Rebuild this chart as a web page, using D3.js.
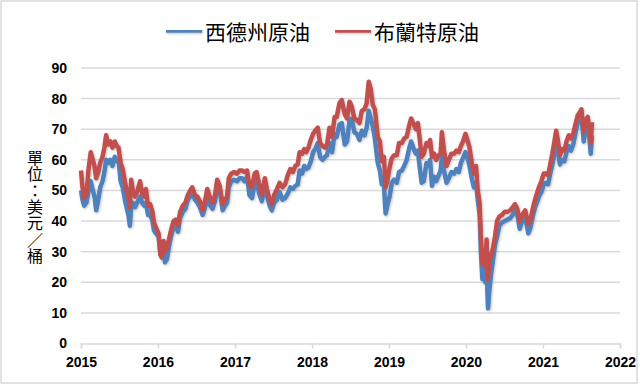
<!DOCTYPE html>
<html lang="zh-Hant">
<head>
    <meta charset="UTF-8">
    <title>原油價格</title>
    <script src="https://d3js.org/d3.v7.min.js"></script>
    <style>
        html, body {
            margin: 0;
            background: #fff;
        }
        #vis {
            width: 640px;
            height: 385px;
        }
    </style>
</head>
<body>
<div id="vis"></div>
<script>
// dates of the readings
var dates = [
 "2015-01-01","2015-01-08","2015-01-16","2015-01-27","2015-02-06","2015-02-16","2015-02-26","2015-03-06","2015-03-14","2015-03-24",
 "2015-04-02","2015-04-13","2015-04-22","2015-04-30","2015-05-10","2015-05-20","2015-05-30","2015-06-10","2015-06-20","2015-06-28",
 "2015-07-08","2015-07-18","2015-07-28","2015-08-07","2015-08-14","2015-08-21","2015-08-27","2015-09-04","2015-09-14","2015-09-24",
 "2015-10-08","2015-10-18","2015-10-28","2015-11-05","2015-11-15","2015-11-25","2015-12-06","2015-12-13","2015-12-22",
 "2016-01-04","2016-01-13","2016-01-20","2016-01-28","2016-02-03","2016-02-12","2016-02-22","2016-03-03","2016-03-15","2016-03-25",
 "2016-04-05","2016-04-15","2016-04-28","2016-05-10","2016-05-22","2016-06-02","2016-06-12","2016-06-24","2016-07-06","2016-07-18",
 "2016-07-31","2016-08-10","2016-08-22","2016-09-05","2016-09-16","2016-09-28","2016-10-08","2016-10-20","2016-11-03","2016-11-14",
 "2016-11-24","2016-12-02","2016-12-14","2016-12-26",
 "2017-01-10","2017-01-22","2017-02-03","2017-02-15","2017-02-27","2017-03-10","2017-03-22","2017-04-04","2017-04-13","2017-04-25",
 "2017-05-08","2017-05-22","2017-06-02","2017-06-14","2017-06-24","2017-07-05","2017-07-19","2017-07-31","2017-08-14","2017-08-26",
 "2017-09-08","2017-09-20","2017-10-02","2017-10-14","2017-10-25","2017-11-03","2017-11-15","2017-11-25","2017-12-05","2017-12-15",
 "2017-12-26",
 "2018-01-06","2018-01-16","2018-01-28","2018-02-08","2018-02-20","2018-03-03","2018-03-13","2018-03-25","2018-04-06","2018-04-18",
 "2018-04-28","2018-05-11","2018-05-22","2018-06-05","2018-06-16","2018-06-28","2018-07-08","2018-07-21","2018-08-02","2018-08-14",
 "2018-08-25","2018-09-07","2018-09-17","2018-09-27","2018-10-07","2018-10-16","2018-10-26","2018-11-09","2018-11-19","2018-11-28",
 "2018-12-08","2018-12-16","2018-12-24",
 "2019-01-04","2019-01-14","2019-01-25","2019-02-07","2019-02-18","2019-03-03","2019-03-14","2019-03-26","2019-04-06","2019-04-16",
 "2019-04-26","2019-05-08","2019-05-18","2019-05-28","2019-06-05","2019-06-15","2019-06-28","2019-07-08","2019-07-15","2019-07-24",
 "2019-08-03","2019-08-13","2019-08-25","2019-09-03","2019-09-09","2019-09-19","2019-10-01","2019-10-12","2019-10-24","2019-11-06",
 "2019-11-17","2019-11-28","2019-12-08","2019-12-18","2019-12-30",
 "2020-01-08","2020-01-18","2020-01-30","2020-02-08","2020-02-18","2020-02-26","2020-03-06","2020-03-12","2020-03-19","2020-03-26",
 "2020-04-02","2020-04-08","2020-04-15","2020-04-22","2020-04-30","2020-05-08","2020-05-18","2020-05-28","2020-06-08","2020-06-20",
 "2020-07-03","2020-07-16","2020-07-29","2020-08-10","2020-08-21","2020-09-01","2020-09-12","2020-09-24","2020-10-08","2020-10-23",
 "2020-11-03","2020-11-13","2020-11-24","2020-12-05","2020-12-15","2020-12-24",
 "2021-01-04","2021-01-14","2021-01-25","2021-02-04","2021-02-14","2021-02-24","2021-03-04","2021-03-12","2021-03-22","2021-04-01",
 "2021-04-12","2021-04-22","2021-05-03","2021-05-13","2021-05-24","2021-06-03","2021-06-14","2021-06-24","2021-07-02","2021-07-13",
 "2021-07-23","2021-08-01","2021-08-09","2021-08-15","2021-08-21"
];

// 西德州原油 (WTI), USD / barrel
var wti = [
 50,47,45,46,50,53,50,48,43.5,47,
 51,53,56,60,59,60,58,61,59.5,60,
 53,51,47,44,42,38.5,45,46,44.5,46,
 48,46,45,46,42,42.5,40,37,36,
 35,29,28.5,32,26.5,27.5,31.5,35,38,38.5,
 36.5,41,43,44,47,48,49.5,47,46,44.5,
 42,44,47.5,45,44,46.5,51.5,50,43.5,45,
 46,51,53,53.5,
 53,54,54,53,54.5,48.5,47.5,52,53.5,49,
 46.5,52,48,45,43.5,46,47,49.5,47,47.5,
 49,51,50.5,51.5,52,56.5,55.5,58,57,57.5,
 59.5,
 62.5,63.5,65.5,61,60,61,61.5,65.5,62.5,68.5,
 67.5,71.5,72,65,66,73,73.5,69,68.5,66.5,
 69.5,68,70.5,76,73.5,71,67,59,56.5,52,
 52,42.5,45,
 48,52.5,53.5,52.5,56,56.5,58,60,63.5,66,
 64,62,63,57,52.5,53,59,58,60,51.5,
 54.5,53,55,56.5,61,56.5,52.5,54,56,55.5,
 57,56,59,60.5,62.5,
 61,58,53.5,51,52.5,47,42,30,21,23,
 20,24.5,11.5,18,23,27,32,35,38.5,39.5,
 40,40.5,41,42,43.5,42,37.5,40,41.5,36,
 38,41.5,44.5,46.5,48.5,49.5,
 52,52.5,52,55.5,58.5,62,65.5,63,58.5,60,
 59.5,62.5,64.5,63,65,68.5,72,73,74.5,66,
 70.5,72,67,62,68
];

// 布蘭特原油 (Brent), USD / barrel
var brent = [
 56.5,51,47.5,49,57,62.5,60,58,54,56,
 59,61,64,68,65,66,64,66,64.5,64,
 59,57,53,49.5,48,44.5,53.5,50,48,49.5,
 53,49,48,50.5,45,45.5,43,39.5,38,
 36,29,28,33.5,30,31,34,37,40,40.5,
 38.5,43,45,46,48.5,50,51,48.5,48,46.5,
 43.5,46,50.5,47.5,46,48.5,53.5,51.5,45.5,47,
 48,54,55.5,56,
 55.5,56.5,56.5,56,56.5,51.5,51,55.5,56,52,
 48.5,54,50,47,45.5,48.5,50.5,52.5,51,52,
 55,57,56,58,58.5,62.5,62,63.5,62.5,64,
 66.5,
 68.5,69.5,70.5,65.5,64.5,64,65,70.5,67.5,74,
 74,78.5,79.5,75,73.5,79,77.5,73.5,73,72,
 76,76.5,78.5,85.5,83,78,76.5,67.5,66,59.5,
 61,51,53,
 57.5,60.5,61.5,61.5,65.5,65.5,67,67.5,71,73.5,
 72,70,72,66,61,62,65.5,64.5,66.5,61,
 62,60,61.5,62,69,63,58,60,62,62,
 63,62.5,64.5,66,68.5,
 66.5,64,58.5,55.5,58,50,46,35,26,30,
 25,34,21,27,29,31,35,40,41.5,42,
 43,43,43.5,44.5,45.5,44,40,42,43.5,39,
 40.5,44,47,49.5,51.5,53,
 55.5,55.5,55,58.5,62,66,69.5,66.5,61.5,63.5,
 63,66,68,67,68.5,71.5,74.5,75.5,76.5,69,
 73,74,70,65.5,72.3
];

var series_names = ["西德州原油", "布蘭特原油"];
var series_colours = ["#4f81bd", "#c0504d"];
var y_ticks = [0, 10, 20, 30, 40, 50, 60, 70, 80, 90];
var x_ticks = ["2015", "2016", "2017", "2018", "2019", "2020", "2021", "2022"];
var y_title_text = "單位：美元／桶";

var width = 640,
    height = 385;

var plot = {left: 81, right: 620, top: 68, bottom: 343.5};

var parse = d3.timeParse("%Y-%m-%d");
var when = dates.map(parse);

var svg = d3.select("#vis")
    .append("svg")
    .attr("width", width)
    .attr("height", height);

// soft shadow like the office chart
var defs = svg.append("defs");
var shadow = defs.append("filter")
    .attr("id", "shadow")
    .attr("filterUnits", "userSpaceOnUse")
    .attr("x", 0).attr("y", 0)
    .attr("width", width).attr("height", height);
shadow.append("feDropShadow")
    .attr("dx", 0.8)
    .attr("dy", 1)
    .attr("stdDeviation", 0.9)
    .attr("flood-color", "#000")
    .attr("flood-opacity", 0.25);

// outer frame
svg.append("rect")
    .attr("x", 1)
    .attr("y", 1)
    .attr("width", 636)
    .attr("height", 382)
    .attr("fill", "#fff")
    .attr("stroke", "#d9d9d9")
    .attr("stroke-width", 1.5);

var x_scale = d3.scaleTime()
    .domain([parse("2015-01-01"), parse("2022-01-01")])
    .range([plot.left, plot.right]);

var y_scale = d3.scaleLinear()
    .domain([0, 90])
    .range([plot.bottom, plot.top]);

// gridlines
svg.append("g")
    .attr("class", "grid")
    .selectAll("line")
    .data(y_ticks.filter(function(d) { return d > 0; }))
    .enter()
    .append("line")
    .attr("x1", plot.left)
    .attr("x2", plot.right)
    .attr("y1", function(d) { return y_scale(d); })
    .attr("y2", function(d) { return y_scale(d); })
    .attr("stroke", "#d9d9d9")
    .attr("stroke-width", 1.5);

// x axis
var x_axis = d3.axisBottom(x_scale)
    .tickValues(x_ticks.map(function(d) { return d3.timeParse("%Y")(d); }))
    .tickFormat(d3.timeFormat("%Y"))
    .tickSize(5)
    .tickPadding(9);

var gx = svg.append("g")
    .attr("class", "x axis")
    .attr("transform", "translate(0," + plot.bottom + ")")
    .call(x_axis);

gx.select(".domain")
    .attr("stroke", "#d9d9d9")
    .attr("stroke-width", 1.5);
gx.selectAll(".tick line")
    .attr("stroke", "#d9d9d9")
    .attr("stroke-width", 1.5);
gx.selectAll(".tick text")
    .attr("fill", "#000")
    .style("font-family", "'Liberation Sans', Arial, sans-serif")
    .style("font-size", "14px")
    .style("font-weight", "bold");

// y axis labels
var y_axis = d3.axisLeft(y_scale)
    .tickValues(y_ticks)
    .tickSize(0)
    .tickPadding(14);

var gy = svg.append("g")
    .attr("class", "y axis")
    .attr("transform", "translate(" + plot.left + ",0)")
    .call(y_axis);

gy.select(".domain").remove();
gy.selectAll(".tick text")
    .attr("fill", "#000")
    .style("font-family", "'Liberation Sans', Arial, sans-serif")
    .style("font-size", "14px")
    .style("font-weight", "bold");

// y title, written top to bottom
svg.append("text")
    .attr("class", "y title")
    .attr("x", 35)
    .attr("y", 150)
    .attr("fill", "#000")
    .style("writing-mode", "vertical-rl")
    .style("text-orientation", "upright")
    .style("letter-spacing", "0.3px")
    .style("font-family", "'Noto Sans CJK TC', 'Noto Sans CJK SC', sans-serif")
    .style("font-size", "16px")
    .text(y_title_text);

// lines
var line = d3.line()
    .x(function(d) { return x_scale(d.date); })
    .y(function(d) { return y_scale(d.value); });

var all_series = [wti, brent].map(function(values, k) {
    return {
        name: series_names[k],
        colour: series_colours[k],
        points: values.map(function(v, i) { return {date: when[i], value: v}; })
    };
});

svg.append("g")
    .attr("class", "lines")
    .attr("filter", "url(#shadow)")
    .selectAll("path")
    .data(all_series)
    .enter()
    .append("path")
    .attr("fill", "none")
    .attr("stroke", function(d) { return d.colour; })
    .attr("stroke-width", 4.5)
    .attr("stroke-linejoin", "round")
    .attr("d", function(d) { return line(d.points); });

// legend
var legend_x = [166, 335];
var legend = svg.append("g")
    .attr("class", "legend")
    .selectAll("g")
    .data(all_series)
    .enter()
    .append("g")
    .attr("transform", function(d, i) { return "translate(" + legend_x[i] + ",30.5)"; });

legend.append("rect")
    .attr("x", 0)
    .attr("y", -2.25)
    .attr("width", 36)
    .attr("height", 4.5)
    .attr("fill", function(d) { return d.colour; })
    .attr("filter", "url(#shadow)");

legend.append("text")
    .attr("x", 39)
    .attr("y", 0)
    .attr("dominant-baseline", "central")
    .attr("fill", "#000")
    .style("font-family", "'Noto Sans CJK TC', 'Noto Sans CJK SC', sans-serif")
    .style("font-size", "21px")
    .text(function(d) { return d.name; });
</script>
</body>
</html>
